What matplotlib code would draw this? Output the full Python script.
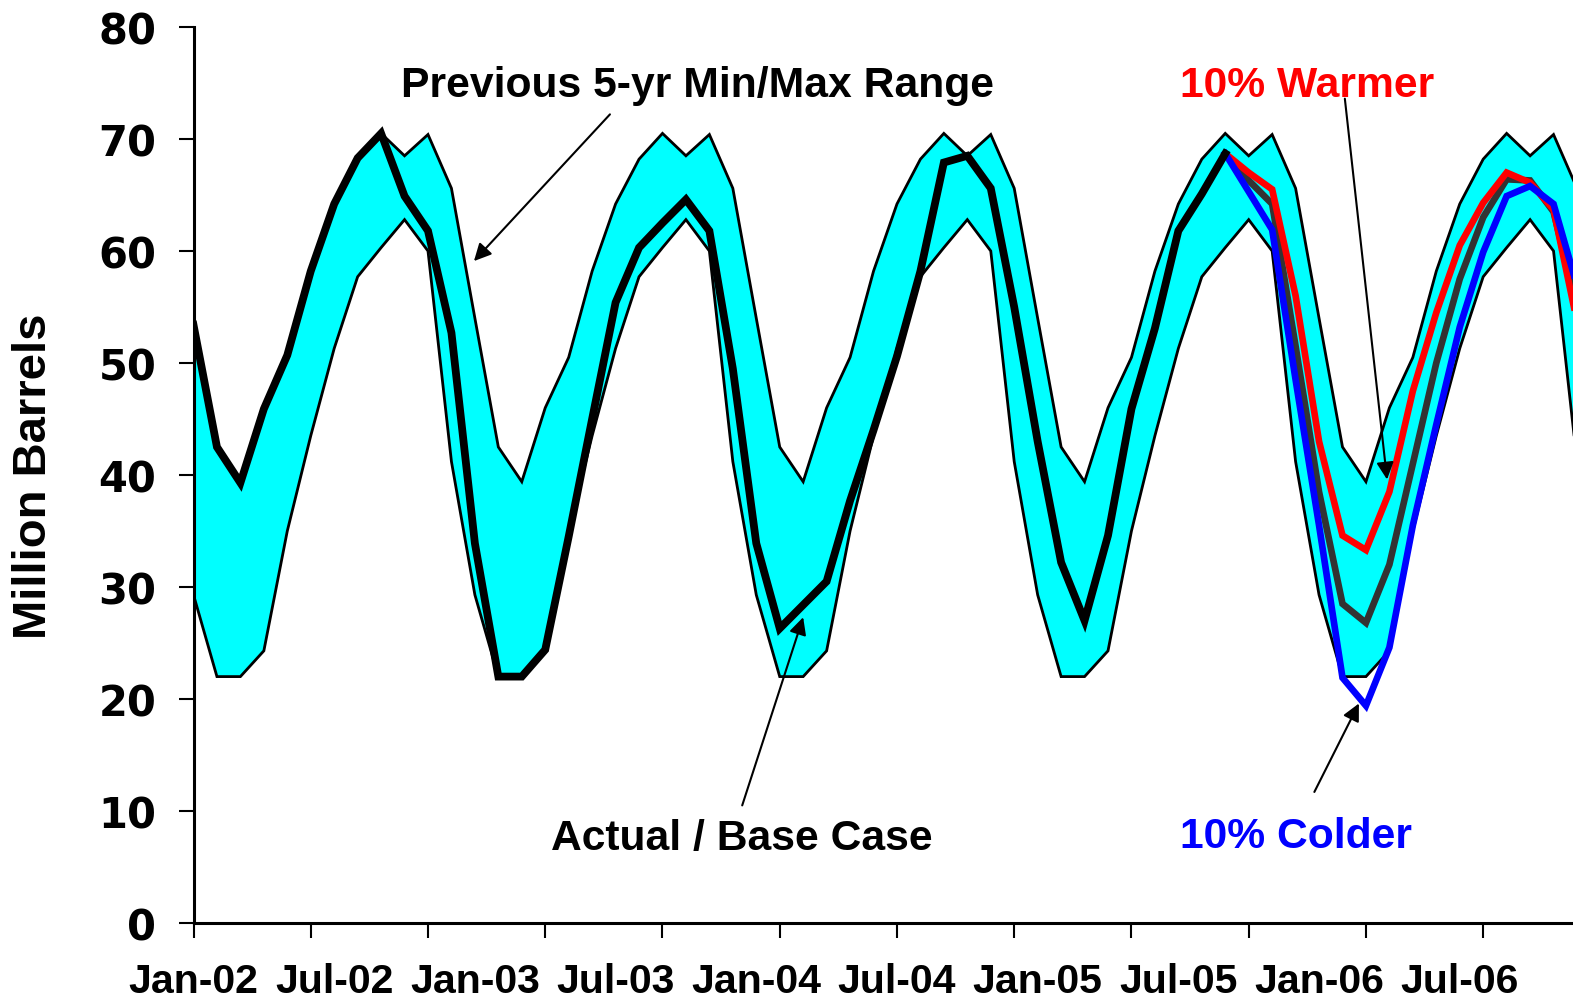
import numpy as np
import matplotlib
matplotlib.use("Agg")
import matplotlib.pyplot as plt

plt.rcParams["font.family"] = ["Liberation Sans", "DejaVu Sans"]
plt.rcParams["font.weight"] = "bold"

# previous 5-yr min/max range, Jan-02 .. Dec-06 (million barrels)
band_max = [
    54.0, 42.5, 39.4, 46.0, 50.5, 58.2, 64.2, 68.2, 70.5, 68.5, 70.4, 65.6,
    54.0, 42.5, 39.4, 46.0, 50.5, 58.2, 64.2, 68.2, 70.5, 68.5, 70.4, 65.6,
    54.0, 42.5, 39.4, 46.0, 50.5, 58.2, 64.2, 68.2, 70.5, 68.5, 70.4, 65.6,
    54.0, 42.5, 39.4, 46.0, 50.5, 58.2, 64.2, 68.2, 70.5, 68.5, 70.4, 65.6,
    54.0, 42.5, 39.4, 46.0, 50.5, 58.2, 64.2, 68.2, 70.5, 68.5, 70.4, 65.6,
]
band_min = [
    29.3, 22.0, 22.0, 24.3, 35.0, 43.5, 51.3, 57.7, 60.3, 62.8, 60.0, 41.2,
    29.3, 22.0, 22.0, 24.3, 35.0, 43.5, 51.3, 57.7, 60.3, 62.8, 60.0, 41.2,
    29.3, 22.0, 22.0, 24.3, 35.0, 43.5, 51.3, 57.7, 60.3, 62.8, 60.0, 41.2,
    29.3, 22.0, 22.0, 24.3, 35.0, 43.5, 51.3, 57.7, 60.3, 62.8, 60.0, 41.2,
    29.3, 22.0, 22.0, 24.3, 35.0, 43.5, 51.3, 57.7, 60.3, 62.8, 60.0, 41.2,
]

# actual inventories, Jan-02 .. Sep-05
actual = [
    53.4, 42.5, 39.3, 45.9, 50.7, 58.2, 64.2, 68.3, 70.5, 64.9, 61.8, 52.7,
    33.9, 22.0, 22.0, 24.4, 34.5, 45.0, 55.4, 60.3, 62.5, 64.6, 61.8, 49.5,
    33.9, 26.3, 28.4, 30.5, 37.7, 44.0, 50.6, 58.2, 67.9, 68.5, 65.6, 55.0,
    43.0, 32.2, 27.0, 34.6, 45.9, 53.1, 61.8, 65.1, 68.7,
]

# projections, Sep-05 .. Dec-06
base_case = [68.7, 66.3, 64.2, 51.5, 38.5, 28.5, 26.8, 32.0, 41.0, 50.0, 57.5, 63.0, 66.4, 66.3, 63.5, 55.0]
warmer = [68.7, 67.0, 65.5, 56.0, 43.0, 34.6, 33.3, 38.5, 47.5, 54.5, 60.5, 64.3, 67.0, 66.1, 63.7, 53.7]
colder = [68.7, 65.3, 61.9, 48.5, 35.5, 21.9, 19.4, 24.6, 35.5, 44.5, 53.2, 59.9, 64.9, 65.8, 64.2, 56.9]

tick_labels = ["Jan-02", "Jul-02", "Jan-03", "Jul-03", "Jan-04",
               "Jul-04", "Jan-05", "Jul-05", "Jan-06", "Jul-06"]

months = np.arange(len(band_max))
fc_months = months[len(actual) - 1:len(actual) - 1 + len(base_case)]

W, H = 1573, 1004
fig = plt.figure(figsize=(W / 100, H / 100), dpi=100)
ax = fig.add_axes([193.5 / W, 80 / H, (W - 193.5) / W, 896 / H])

ax.fill_between(months, band_min, band_max, color="#00FFFF", lw=0, zorder=1)
ax.plot(months, band_max, color="black", lw=2.0, solid_joinstyle="miter", zorder=2)
ax.plot(months, band_min, color="black", lw=2.0, solid_joinstyle="miter", zorder=2)

ax.plot(months[:len(actual)], actual, color="black", lw=5.6, solid_joinstyle="miter", zorder=4)
ax.plot(fc_months, base_case, color="#333333", lw=4.8, solid_joinstyle="miter", zorder=3)
ax.plot(fc_months, warmer, color="#FF0000", lw=4.8, solid_joinstyle="miter", zorder=3)
ax.plot(fc_months, colder, color="#0000FF", lw=4.8, solid_joinstyle="miter", zorder=3)

ax.set_xlim(0, 58.83)
ax.set_ylim(0, 80)

for s in ["top", "right"]:
    ax.spines[s].set_visible(False)
for s in ["left", "bottom"]:
    ax.spines[s].set_linewidth(2.2)

ax.set_yticks(range(0, 81, 10))
ax.tick_params(axis="y", direction="out", length=10.8, width=1.5, pad=16, labelsize=30)
for lbl in ax.get_yticklabels():
    lbl.set_fontfamily("DejaVu Sans")
    lbl.set_fontweight("bold")

ax.xaxis.remove_overlapping_locs = False
ax.set_xticks(months[::5])
ax.set_xticklabels([])
ax.tick_params(axis="x", which="major", direction="out", length=10.8, width=1.5)
ax.set_xticks(months[::6][:len(tick_labels)], minor=True)
ax.set_xticklabels(tick_labels, minor=True)
ax.tick_params(axis="x", which="minor", length=0, pad=28, labelsize=29.5)

fig.text(34 / W, 1 - 476 / H, "Million Barrels", rotation=90, ha="center", va="center",
         fontsize=34, fontweight="bold")

# annotations
arrow = dict(arrowstyle="-|>", color="black", lw=1.5, mutation_scale=26, shrinkA=0, shrinkB=0)
ax.text(21.5, 74.8, "Previous 5-yr Min/Max Range", ha="center", va="center", fontsize=30.7, fontweight="bold")
ax.annotate("", xy=(11.96, 59.1), xytext=(17.76, 72.2), arrowprops=arrow)
ax.text(23.4, 7.6, "Actual / Base Case", ha="center", va="center", fontsize=30.7, fontweight="bold")
ax.annotate("", xy=(26.0, 27.3), xytext=(23.4, 10.5), arrowprops=arrow)
ax.text(47.5, 74.8, "10% Warmer", ha="center", va="center", fontsize=30.7, fontweight="bold", color="#FF0000")
ax.annotate("", xy=(50.9, 39.6), xytext=(49.1, 73.6), arrowprops=arrow)
ax.text(47.0, 7.8, "10% Colder", ha="center", va="center", fontsize=30.7, fontweight="bold", color="#0000FF")
ax.annotate("", xy=(49.7, 19.6), xytext=(47.8, 11.7), arrowprops=arrow)

fig.savefig("out.png", dpi=100)
